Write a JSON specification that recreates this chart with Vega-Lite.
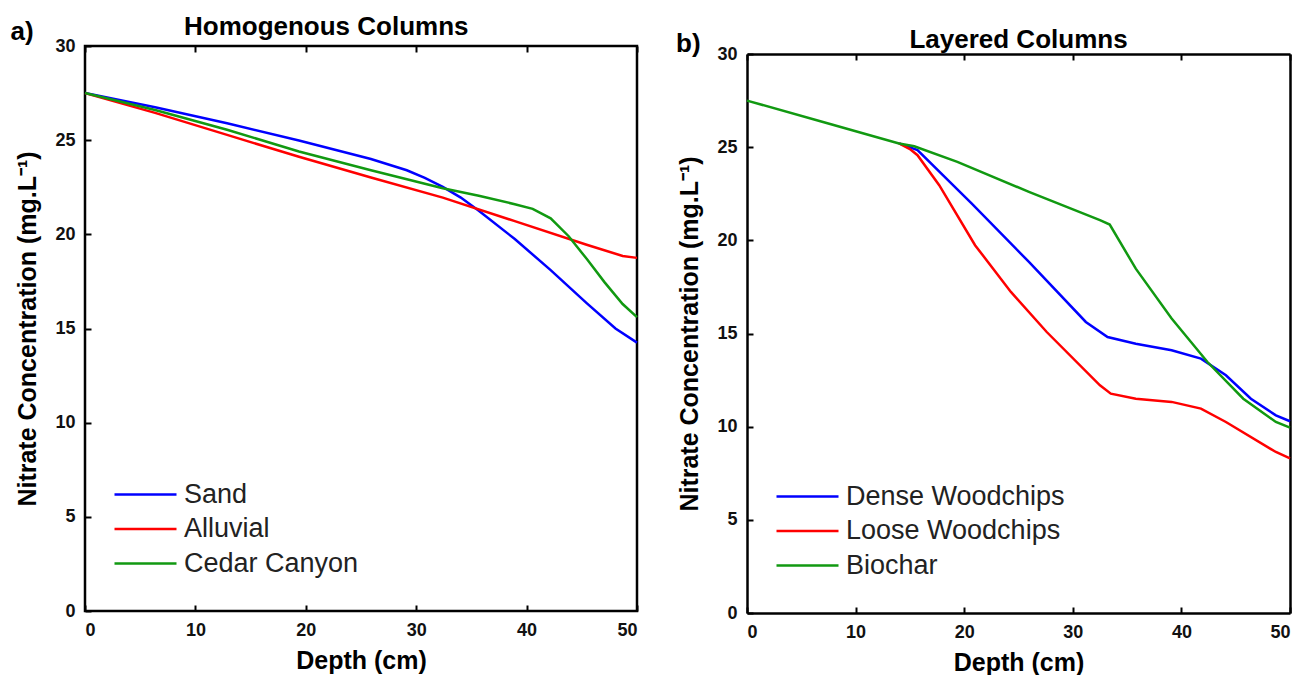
{
  "$schema": "https://vega.github.io/schema/vega-lite/v6.json",
  "background": "white",
  "padding": {"left": 9, "top": 12, "right": 5, "bottom": 0},
  "spacing": 32,
  "config": {
    "font": "Liberation Sans",
    "view": {"stroke": "black", "strokeWidth": 2.5},
    "axis": {
      "grid": false, "domain": false, "domainColor": "black", "domainWidth": 2.5,
      "tickColor": "black", "tickWidth": 2, "tickSize": -6,
      "labelFont": "Liberation Sans", "labelFontSize": 18, "labelFontWeight": "bold", "labelColor": "#111",
      "titleFont": "Liberation Sans", "titleFontSize": 25, "titleFontWeight": "bold", "titleColor": "black"
    },
    "axisX": {"labelPadding": 16, "titlePadding": 9},
    "axisY": {"labelPadding": 16, "titlePadding": 14},
    "title": {"font": "Liberation Sans", "fontSize": 26, "fontWeight": "bold", "color": "black"},
    "legend": {
      "orient": "bottom-left", "title": null, "symbolType": "M-3.1,0H3.1", "symbolSize": 400,
      "symbolStrokeWidth": 2.5, "labelFont": "Liberation Sans", "labelFontSize": 27, "labelLimit": 0,
      "labelColor": "#222", "labelOffset": 25, "symbolOffset": 13, "rowPadding": 6.5, "offset": 34
    }
  },
  "datasets": {
    "a": [
      {"depth": 0, "conc": 27.5, "series": "Sand"},
      {"depth": 6.35, "conc": 26.75, "series": "Sand"},
      {"depth": 12.87, "conc": 25.9, "series": "Sand"},
      {"depth": 19.38, "conc": 24.98, "series": "Sand"},
      {"depth": 25.9, "conc": 24.0, "series": "Sand"},
      {"depth": 29.15, "conc": 23.4, "series": "Sand"},
      {"depth": 30.78, "conc": 23.0, "series": "Sand"},
      {"depth": 32.41, "conc": 22.52, "series": "Sand"},
      {"depth": 34.04, "conc": 21.95, "series": "Sand"},
      {"depth": 35.67, "conc": 21.25, "series": "Sand"},
      {"depth": 38.93, "conc": 19.75, "series": "Sand"},
      {"depth": 42.18, "conc": 18.1, "series": "Sand"},
      {"depth": 45.44, "conc": 16.35, "series": "Sand"},
      {"depth": 48.05, "conc": 15.0, "series": "Sand"},
      {"depth": 50, "conc": 14.25, "series": "Sand"},
      {"depth": 0, "conc": 27.5, "series": "Alluvial"},
      {"depth": 6.35, "conc": 26.45, "series": "Alluvial"},
      {"depth": 12.87, "conc": 25.28, "series": "Alluvial"},
      {"depth": 19.38, "conc": 24.12, "series": "Alluvial"},
      {"depth": 25.9, "conc": 23.02, "series": "Alluvial"},
      {"depth": 32.41, "conc": 21.95, "series": "Alluvial"},
      {"depth": 38.93, "conc": 20.7, "series": "Alluvial"},
      {"depth": 45.44, "conc": 19.45, "series": "Alluvial"},
      {"depth": 48.7, "conc": 18.85, "series": "Alluvial"},
      {"depth": 50, "conc": 18.75, "series": "Alluvial"},
      {"depth": 0, "conc": 27.5, "series": "Cedar Canyon"},
      {"depth": 6.35, "conc": 26.6, "series": "Cedar Canyon"},
      {"depth": 12.87, "conc": 25.55, "series": "Cedar Canyon"},
      {"depth": 19.38, "conc": 24.4, "series": "Cedar Canyon"},
      {"depth": 25.9, "conc": 23.4, "series": "Cedar Canyon"},
      {"depth": 32.41, "conc": 22.45, "series": "Cedar Canyon"},
      {"depth": 35.67, "conc": 22.05, "series": "Cedar Canyon"},
      {"depth": 38.93, "conc": 21.6, "series": "Cedar Canyon"},
      {"depth": 40.55, "conc": 21.35, "series": "Cedar Canyon"},
      {"depth": 42.18, "conc": 20.85, "series": "Cedar Canyon"},
      {"depth": 43.81, "conc": 19.9, "series": "Cedar Canyon"},
      {"depth": 45.44, "conc": 18.7, "series": "Cedar Canyon"},
      {"depth": 47.07, "conc": 17.45, "series": "Cedar Canyon"},
      {"depth": 48.7, "conc": 16.3, "series": "Cedar Canyon"},
      {"depth": 50, "conc": 15.6, "series": "Cedar Canyon"}
    ],
    "b": [
      {"depth": 14, "conc": 25.2, "series": "Dense Woodchips"},
      {"depth": 15.7, "conc": 24.84, "series": "Dense Woodchips"},
      {"depth": 20.7, "conc": 21.97, "series": "Dense Woodchips"},
      {"depth": 25.96, "conc": 18.84, "series": "Dense Woodchips"},
      {"depth": 31.2, "conc": 15.62, "series": "Dense Woodchips"},
      {"depth": 33.2, "conc": 14.81, "series": "Dense Woodchips"},
      {"depth": 35.8, "conc": 14.45, "series": "Dense Woodchips"},
      {"depth": 39.1, "conc": 14.1, "series": "Dense Woodchips"},
      {"depth": 41.8, "conc": 13.65, "series": "Dense Woodchips"},
      {"depth": 44.1, "conc": 12.76, "series": "Dense Woodchips"},
      {"depth": 46.4, "conc": 11.5, "series": "Dense Woodchips"},
      {"depth": 48.7, "conc": 10.61, "series": "Dense Woodchips"},
      {"depth": 50, "conc": 10.29, "series": "Dense Woodchips"},
      {"depth": 14, "conc": 25.2, "series": "Loose Woodchips"},
      {"depth": 15.0, "conc": 24.9, "series": "Loose Woodchips"},
      {"depth": 15.7, "conc": 24.57, "series": "Loose Woodchips"},
      {"depth": 17.7, "conc": 22.96, "series": "Loose Woodchips"},
      {"depth": 21.0, "conc": 19.74, "series": "Loose Woodchips"},
      {"depth": 24.3, "conc": 17.23, "series": "Loose Woodchips"},
      {"depth": 27.6, "conc": 15.08, "series": "Loose Woodchips"},
      {"depth": 32.5, "conc": 12.22, "series": "Loose Woodchips"},
      {"depth": 33.5, "conc": 11.77, "series": "Loose Woodchips"},
      {"depth": 35.8, "conc": 11.5, "series": "Loose Woodchips"},
      {"depth": 39.1, "conc": 11.33, "series": "Loose Woodchips"},
      {"depth": 41.8, "conc": 10.97, "series": "Loose Woodchips"},
      {"depth": 44.1, "conc": 10.25, "series": "Loose Woodchips"},
      {"depth": 48.7, "conc": 8.64, "series": "Loose Woodchips"},
      {"depth": 50, "conc": 8.3, "series": "Loose Woodchips"},
      {"depth": 0, "conc": 27.5, "series": "Biochar"},
      {"depth": 7, "conc": 26.35, "series": "Biochar"},
      {"depth": 14, "conc": 25.2, "series": "Biochar"},
      {"depth": 15.4, "conc": 25.05, "series": "Biochar"},
      {"depth": 19.37, "conc": 24.21, "series": "Biochar"},
      {"depth": 25.96, "conc": 22.6, "series": "Biochar"},
      {"depth": 32.5, "conc": 21.08, "series": "Biochar"},
      {"depth": 33.4, "conc": 20.85, "series": "Biochar"},
      {"depth": 35.8, "conc": 18.48, "series": "Biochar"},
      {"depth": 39.1, "conc": 15.8, "series": "Biochar"},
      {"depth": 42.4, "conc": 13.47, "series": "Biochar"},
      {"depth": 45.7, "conc": 11.5, "series": "Biochar"},
      {"depth": 48.7, "conc": 10.25, "series": "Biochar"},
      {"depth": 50, "conc": 9.95, "series": "Biochar"}
    ]
  },
  "resolve": {"scale": {"color": "independent"}, "legend": {"color": "independent"}},
  "hconcat": [
    {
      "width": 552, "height": 565,
      "title": {"text": "Homogenous Columns", "offset": -21, "frame": "bounds"},
      "resolve": {"axis": {"x": "independent"}},
      "layer": [
        {
          "data": {"name": "a"},
          "mark": {"type": "line", "strokeWidth": 2.5},
          "encoding": {
            "x": {"field": "depth", "type": "quantitative", "scale": {"domain": [0, 50], "nice": false},
                  "axis": {"orient": "bottom", "values": [0, 10, 20, 30, 40, 50], "title": "Depth (cm)"}},
            "y": {"field": "conc", "type": "quantitative", "scale": {"domain": [0, 30], "nice": false},
                  "axis": {"values": [0, 5, 10, 15, 20, 25, 30], "title": "Nitrate Concentration (mg.L⁻¹)"}},
            "color": {"field": "series", "type": "nominal",
                      "scale": {"domain": ["Sand", "Alluvial", "Cedar Canyon"], "range": ["#0000ff", "#ff0000", "#119911"]}}
          }
        },
        {
          "data": {"values": [{}]},
          "mark": {"type": "text", "fontSize": 26, "fontWeight": "bold", "font": "Liberation Sans", "color": "black"},
          "encoding": {
            "x": {"datum": -5.7, "type": "quantitative", "axis": {"orient": "top", "labels": false, "title": null, "values": [0, 10, 20, 30, 40, 50]}},
            "y": {"datum": 30.75, "type": "quantitative"},
            "text": {"value": "a)"}
          }
        }
      ]
    },
    {
      "width": 543, "height": 567,
      "view": {"stroke": null},
      "title": {"text": "Layered Columns", "offset": -22, "frame": "group"},
      "resolve": {"axis": {"x": "independent", "y": "independent"}},
      "layer": [
        {
          "data": {"name": "b"},
          "mark": {"type": "line", "strokeWidth": 2.5},
          "encoding": {
            "x": {"field": "depth", "type": "quantitative", "scale": {"domain": [0, 50], "nice": false},
                  "axis": {"orient": "bottom", "domain": true, "values": [0, 10, 20, 30, 40, 50], "title": "Depth (cm)"}},
            "y": {"field": "conc", "type": "quantitative", "scale": {"domain": [0, 30], "nice": false, "range": [567, 8]},
                  "axis": {"orient": "left", "domain": true, "values": [0, 5, 10, 15, 20, 25, 30], "title": "Nitrate Concentration (mg.L⁻¹)"}},
            "color": {"field": "series", "type": "nominal",
                      "scale": {"domain": ["Dense Woodchips", "Loose Woodchips", "Biochar"], "range": ["#0000ff", "#ff0000", "#119911"]}}
          }
        },
        {
          "data": {"values": [{}]},
          "mark": {"type": "text", "fontSize": 26, "fontWeight": "bold", "font": "Liberation Sans", "color": "black"},
          "encoding": {
            "x": {"datum": -5.4, "type": "quantitative", "axis": {"orient": "top", "offset": -8, "domain": true, "labels": false, "title": null, "values": [0, 10, 20, 30, 40, 50]}},
            "y": {"datum": 30.54, "type": "quantitative", "axis": {"orient": "right", "domain": true, "ticks": false, "labels": false, "title": null}},
            "text": {"value": "b)"}
          }
        }
      ]
    }
  ]
}
